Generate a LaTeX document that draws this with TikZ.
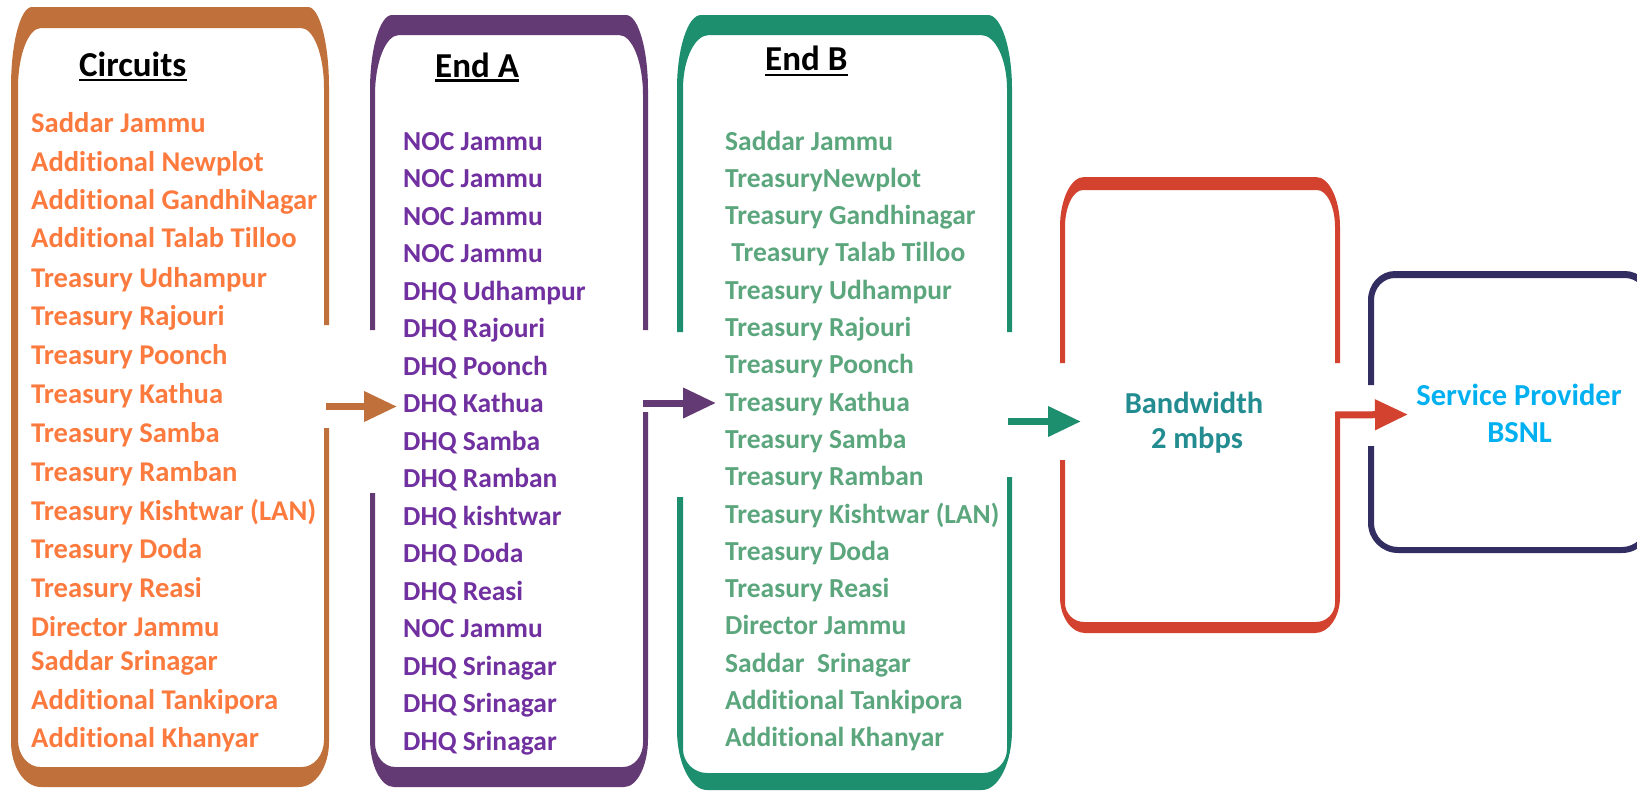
\documentclass[tikz,border=0pt]{standalone}
\usepackage{fontspec}
\setmainfont{Carlito}[Ligatures=NoCommon]
\usetikzlibrary{arrows.meta}
\definecolor{boxO}{RGB}{192,112,58}
\definecolor{boxP}{RGB}{99,58,115}
\definecolor{boxG}{RGB}{30,143,110}
\definecolor{boxR}{RGB}{210,66,47}
\definecolor{boxN}{RGB}{50,46,98}
\definecolor{txtO}{RGB}{252,122,62}
\definecolor{txtP}{RGB}{112,48,160}
\definecolor{txtG}{RGB}{91,166,125}
\definecolor{txtT}{RGB}{35,140,145}
\definecolor{txtS}{RGB}{0,176,240}
\newcommand{\gapclip}[5]{\clip (-10,-10) -- (1700,-10) -- (1700,#4) -- (#1,#4) -- (#1,#5) -- (1700,#5) -- (1700,800) -- (-10,800) -- (-10,#3) -- (#1,#3) -- (#1,#2) -- (-10,#2) -- cycle;}
\tikzset{
  rr/.style n args={8}{insert path={(#1+#5,#2) -- (#3-#5,#2) .. controls (#3-0.45*#5,#2) and (#3,#2+0.45*#6) .. (#3,#2+#6) -- (#3,#4-#8) .. controls (#3,#4-0.45*#8) and (#3-0.45*#7,#4) .. (#3-#7,#4) -- (#1+#7,#4) .. controls (#1+0.45*#7,#4) and (#1,#4-0.45*#8) .. (#1,#4-#8) -- (#1,#2+#6) .. controls (#1,#2+0.45*#6) and (#1+0.45*#5,#2) .. (#1+#5,#2) -- cycle}},
  listtext/.style={font=\fontsize{28.6}{34}\selectfont\bfseries, inner sep=0pt, anchor=base west},
  listtextB/.style={font=\fontsize{27.5}{33}\selectfont\bfseries, inner sep=0pt, anchor=base west},
  htext/.style={font=\fontsize{35}{40}\selectfont\bfseries, inner sep=0pt, anchor=base west, text=black},
  ctext/.style={font=\fontsize{30.5}{36}\selectfont\bfseries, inner sep=0pt, anchor=base},
  uline/.style={line width=2.6pt, draw=black},
  conn/.style={line width=7pt, -{Triangle[length=33pt,width=29pt]}},
}
\begin{document}
\begin{tikzpicture}[x=1pt,y=-1pt]
\useasboundingbox (0,0) rectangle (1637,790);
\clip (0,0) rectangle (1637,790);

% Circuits box
\begin{scope}
\gapclip{170}{400}{400}{325}{428}
\fill[boxO, even odd rule, rr={11}{7}{329}{787}{21}{80}{30}{45}, rr={18}{28}{324}{767}{23}{60}{22}{27}];
\end{scope}
% End A box
\begin{scope}
\gapclip{510}{330}{493}{330}{412}
\fill[boxP, even odd rule, rr={370}{15}{648}{787}{22}{75}{24}{48}, rr={375}{35}{643}{767}{24}{60}{20}{24}];
\end{scope}
% End B box
\begin{scope}
\gapclip{845}{332}{497}{332}{477}
\fill[boxG, even odd rule, rr={677}{15}{1012}{790}{24}{74}{30}{60}, rr={683}{35}{1007}{773}{26}{54}{24}{24}];
\end{scope}
% Bandwidth box
\begin{scope}
\gapclip{1200}{363}{460}{363}{412}
\fill[boxR, even odd rule, rr={1060}{177}{1340}{633}{24}{50}{25}{36}, rr={1065}{190}{1335}{622}{18}{37}{19}{19}];
\end{scope}
% Service provider box
\begin{scope}
\gapclip{1500}{385}{446}{400}{400}
\fill[boxN, even odd rule, rr={1368}{271}{1652}{553}{27}{29}{30}{30}, rr={1374}{278}{1646}{547}{21}{22}{24}{24}];
\end{scope}

% connectors
\coordinate (a1s) at (326,406.5);
\coordinate (a1e) at (397,406.5);
\coordinate (a2s) at (643,403);
\coordinate (a2e) at (716,403);
\coordinate (a3s) at (1008,421.5);
\coordinate (a3e) at (1081,421.5);
\coordinate (a4s) at (1335,415);
\coordinate (a4e) at (1408,414.5);
\draw[conn, draw=boxO, fill=boxO] (a1s) -- (a1e);
\draw[conn, draw=boxP, fill=boxP] (a2s) -- (a2e);
\draw[conn, draw=boxG, fill=boxG] (a3s) -- (a3e);
\draw[conn, draw=boxR, fill=boxR] (a4s) -- (a4e);

% headers
\node[htext] (hC) at (79,76) {Circuits};
\node[htext] (hA) at (435,77) {End A};
\node[htext] (hB) at (765,70) {End B};
\draw[uline] ([yshift=-4pt]hC.base west) -- ([yshift=-4pt]hC.base east);
\draw[uline] ([yshift=-3.5pt]hA.base west) -- ([yshift=-3.5pt]hA.base east);
\draw[uline] ([yshift=-5pt]hB.base west) -- ([yshift=-5pt]hB.base east);

% circuits list
\foreach \y/\t [count=\i] in {132/Saddar Jammu, 171/Additional Newplot, 209/Additional GandhiNagar, 247/Additional Talab Tilloo, 287/Treasury Udhampur, 325/Treasury Rajouri, 364/Treasury Poonch, 403/Treasury Kathua, 442/Treasury Samba, 481/Treasury Ramban, 520/Treasury Kishtwar (LAN), 558/Treasury Doda, 597/Treasury Reasi, 636/Director Jammu, 670/Saddar Srinagar, 709/Additional Tankipora, 747/Additional Khanyar}
  \node[listtext, text=txtO] (c\i) at (31,\y) {\t};

% End A list
\foreach \t [count=\i] in {NOC Jammu, NOC Jammu, NOC Jammu, NOC Jammu, DHQ Udhampur, DHQ Rajouri, DHQ Poonch, DHQ Kathua, DHQ Samba, DHQ Ramban, DHQ kishtwar, DHQ Doda, DHQ Reasi, NOC Jammu, DHQ Srinagar, DHQ Srinagar, DHQ Srinagar}
  \node[listtextB, text=txtP] (a\i) at (403,{150+37.5*(\i-1)}) {\t};

% End B list
\foreach \t [count=\i] in {Saddar Jammu, TreasuryNewplot, Treasury Gandhinagar, ~Treasury Talab Tilloo, Treasury Udhampur, Treasury Rajouri, Treasury Poonch, Treasury Kathua, Treasury Samba, Treasury Ramban, Treasury Kishtwar (LAN), Treasury Doda, Treasury Reasi, Director Jammu, Saddar~~Srinagar, Additional Tankipora, Additional Khanyar}
  \node[listtextB, text=txtG] (b\i) at (725,{150+37.3*(\i-1)}) {\t};

% Bandwidth
\node[ctext, text=txtT] (bw1) at (1194,413) {Bandwidth};
\node[ctext, text=txtT] (bw2) at (1197,448) {2 mbps};
% Service provider
\node[ctext, text=txtS] (sp1) at (1519,405) {Service Provider};
\node[ctext, text=txtS] (sp2) at (1519.5,442) {BSNL};
\end{tikzpicture}
\end{document}
